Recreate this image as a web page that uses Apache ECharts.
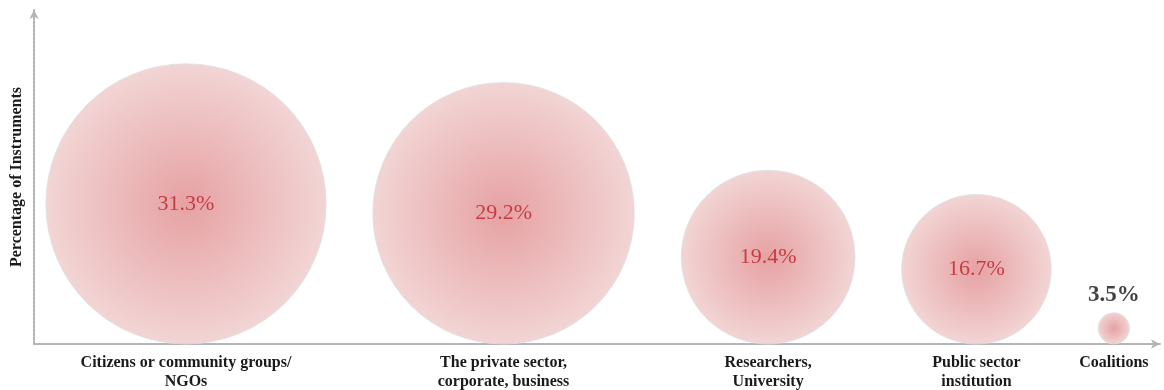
<!DOCTYPE html>
<html>
<head>
<meta charset="utf-8">
<script src="https://cdn.jsdelivr.net/npm/echarts@6/dist/echarts.min.js"></script>
<style>
  html, body { margin: 0; padding: 0; background: #fff; }
  #chart { width: 1164px; height: 390px; }
</style>
</head>
<body>
<div id="chart"></div>
<script>
// Stakeholder groups, their horizontal slot on the axis, and their share (%)
const categories = [
  'Citizens or community groups/\nNGOs',
  'The private sector,\ncorporate, business',
  'Researchers,\nUniversity',
  'Public sector\ninstitution',
  'Coalitions'
];
const positions = [13.5, 41.7, 65.2, 83.7, 95.9];
const shares = [31.3, 29.2, 19.4, 16.7, 3.5];

const GRID = { left: 34, right: 4, top: 10, bottom: 46, outerBoundsMode: 'none' };
const CHART_H = 390;
const Y_MAX = 37.3;
const X_MAX = 100;
// pixels per y-unit, so a bubble of diameter = share sits on the x axis
const PX_PER_UNIT = (CHART_H - GRID.top - GRID.bottom) / Y_MAX;

const serif = '"Liberation Serif", "DejaVu Serif", serif';

const bubbleFill = {
  type: 'radial', x: 0.5, y: 0.5, r: 0.5,
  colorStops: [
    { offset: 0, color: '#e08a8c' },
    { offset: 1, color: '#efcaca' }
  ]
};

const dottedAxis = {
  show: true, symbol: ['none', 'arrow'], symbolSize: [7, 9],
  lineStyle: { color: '#b4b4b4', width: 2, type: [2.5, 1.5] }
};

const points = shares.map((v, i) => {
  const item = { value: [positions[i], v / 2, v] };
  if (i === shares.length - 1) {
    item.label = {
      position: 'top', distance: 6, color: '#111',
      fontWeight: 'bold', fontSize: 23
    };
  }
  return item;
});

const chart = echarts.init(document.getElementById('chart'));
chart.setOption({
  backgroundColor: '#fff',
  animation: false,
  grid: GRID,
  xAxis: {
    type: 'value', min: 0, max: X_MAX,
    splitLine: { show: false },
    axisTick: { show: false },
    axisLine: dottedAxis,
    axisLabel: {
      customValues: positions,
      formatter: (val) => {
        const i = positions.findIndex(p => Math.abs(p - val) < 1e-6);
        return i >= 0 ? categories[i] : '';
      },
      margin: 9,
      fontFamily: serif, fontWeight: 'bold', fontSize: 16,
      color: '#1a1a1a', lineHeight: 19
    }
  },
  yAxis: {
    type: 'value', min: 0, max: Y_MAX,
    name: 'Percentage of Instruments',
    nameLocation: 'middle', nameGap: 9, nameRotate: 90,
    nameTextStyle: { fontFamily: serif, fontWeight: 'bold', fontSize: 16, color: '#1a1a1a' },
    splitLine: { show: false },
    axisTick: { show: false },
    axisLabel: { show: false },
    axisLine: dottedAxis
  },
  series: [{
    type: 'scatter',
    data: points,
    symbolSize: (d) => d[2] * PX_PER_UNIT,
    itemStyle: {
      color: bubbleFill,
      borderColor: '#e0e0e0', borderWidth: 1
    },
    label: {
      show: true, position: 'inside',
      formatter: (p) => p.value[2].toFixed(1) + '%',
      fontFamily: serif, fontSize: 22, color: '#c01f28'
    }
  }]
});
</script>
</body>
</html>
